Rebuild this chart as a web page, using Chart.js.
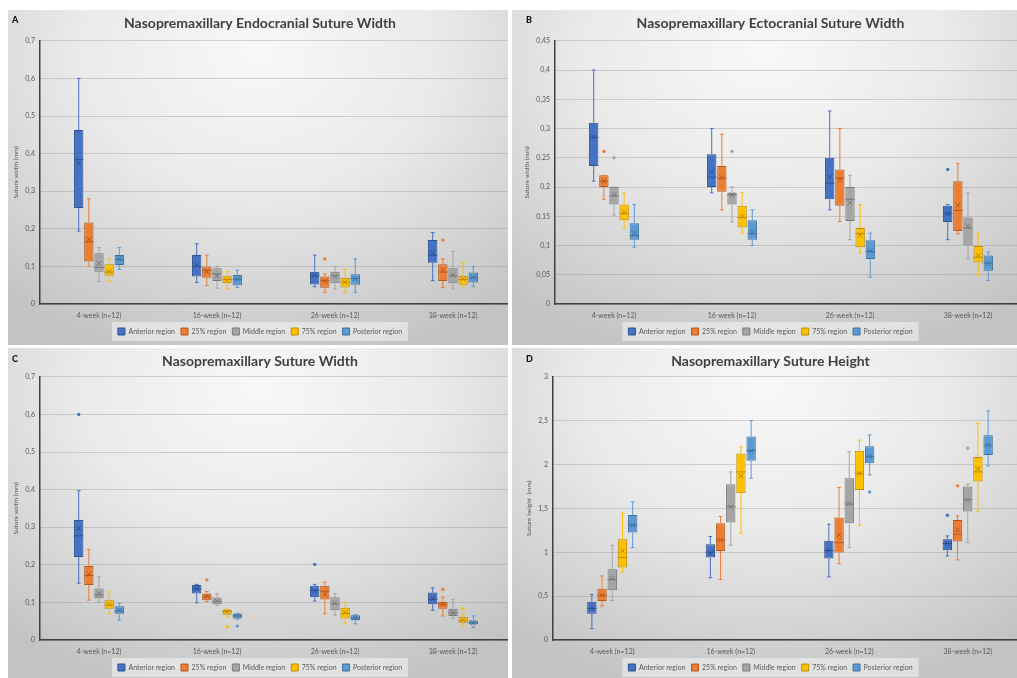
<!DOCTYPE html>
<html>
<head>
<meta charset="utf-8">
<script src="https://cdn.jsdelivr.net/npm/chart.js@4.4.0/dist/chart.umd.min.js"></script>
<style>
body{margin:0;background:#fff;width:1017px;height:678px;overflow:hidden;position:relative;font-family:Lato,sans-serif}
.panel{position:absolute;overflow:hidden;background:radial-gradient(ellipse 80% 95% at 50% 12%,#f8f8f8 0%,#eaeaea 45%,#d3d3d3 78%,#c3c3c3 100%)}
.panel canvas{position:absolute;top:0}
.letter{position:absolute;font:900 9px Lato,sans-serif;color:#111}
</style>
</head>
<body>
<div class="panel" style="left:8px;top:10px;width:500px;height:335px"><canvas id="cA" width="510" height="335" style="left:0"></canvas></div>
<div class="panel" style="left:512px;top:10px;width:505px;height:335px"><canvas id="cB" width="522" height="335" style="left:2px"></canvas></div>
<div class="panel" style="left:8px;top:348px;width:500px;height:330px"><canvas id="cC" width="510" height="333" style="left:0"></canvas></div>
<div class="panel" style="left:512px;top:348px;width:505px;height:330px"><canvas id="cD" width="522" height="333" style="left:2px"></canvas></div>
<span class="letter" style="left:12px;top:14px">A</span>
<span class="letter" style="left:526px;top:14px">B</span>
<span class="letter" style="left:12px;top:353px">C</span>
<span class="letter" style="left:526px;top:353px">D</span>
<script>
const weeks = ["4-week (n=12)", "16-week (n=12)", "26-week (n=12)", "38-week (n=12)"];
const regions = ["Anterior region", "25% region", "Middle region", "75% region", "Posterior region"];
const colors = ["#4472C4", "#ED7D31", "#A5A5A5", "#FFC000", "#5B9BD5"];
const darks = ["#2F528F", "#AE5A21", "#787878", "#BC8C00", "#41719C"];

// rows = regions, columns = weeks
// A - endocranial suture width
const endoMax  = [[0.60, 0.16, 0.13, 0.19], [0.28, 0.13, 0.08, 0.12], [0.15, 0.10, 0.10, 0.14], [0.12, 0.086, 0.092, 0.11], [0.15, 0.09, 0.12, 0.10]];
const endoQ3   = [[0.463, 0.13, 0.086, 0.17], [0.217, 0.10, 0.073, 0.106], [0.135, 0.095, 0.086, 0.095], [0.106, 0.075, 0.07, 0.075], [0.13, 0.077, 0.079, 0.084]];
const endoMed  = [[0.385, 0.10, 0.075, 0.13], [0.165, 0.09, 0.062, 0.085], [0.097, 0.08, 0.075, 0.075], [0.085, 0.065, 0.058, 0.065], [0.118, 0.066, 0.068, 0.07]];
const endoMean = [[0.374, 0.104, 0.077, 0.135], [0.172, 0.086, 0.061, 0.09], [0.108, 0.075, 0.073, 0.077], [0.086, 0.064, 0.058, 0.066], [0.12, 0.066, 0.068, 0.071]];
const endoQ1   = [[0.255, 0.073, 0.052, 0.11], [0.113, 0.07, 0.043, 0.061], [0.086, 0.061, 0.055, 0.055], [0.075, 0.055, 0.044, 0.051], [0.104, 0.049, 0.051, 0.057]];
const endoMin  = [[0.194, 0.057, 0.046, 0.062], [0.10, 0.049, 0.031, 0.044], [0.06, 0.042, 0.040, 0.04], [0.061, 0.041, 0.031, 0.046], [0.092, 0.044, 0.031, 0.046]];
const endoOut  = [[1, 2, 0.12], [1, 3, 0.17]];

// B - ectocranial suture width
const ectoMax  = [[0.40, 0.30, 0.33, 0.17], [0.22, 0.29, 0.30, 0.24], [0.20, 0.20, 0.22, 0.19], [0.19, 0.19, 0.17, 0.121], [0.17, 0.161, 0.121, 0.089]];
const ectoQ3   = [[0.31, 0.256, 0.25, 0.168], [0.22, 0.236, 0.23, 0.21], [0.20, 0.19, 0.20, 0.148], [0.17, 0.168, 0.13, 0.099], [0.138, 0.143, 0.109, 0.083]];
const ectoMed  = [[0.285, 0.217, 0.207, 0.155], [0.21, 0.215, 0.215, 0.16], [0.185, 0.187, 0.179, 0.13], [0.155, 0.148, 0.12, 0.08], [0.117, 0.12, 0.09, 0.07]];
const ectoMean = [[0.286, 0.226, 0.217, 0.154], [0.21, 0.216, 0.213, 0.169], [0.187, 0.187, 0.173, 0.133], [0.157, 0.15, 0.118, 0.083], [0.122, 0.123, 0.091, 0.069]];
const ectoQ1   = [[0.236, 0.20, 0.179, 0.14], [0.20, 0.192, 0.168, 0.125], [0.17, 0.17, 0.142, 0.10], [0.143, 0.131, 0.097, 0.071], [0.11, 0.11, 0.077, 0.057]];
const ectoMin  = [[0.21, 0.19, 0.161, 0.11], [0.179, 0.161, 0.141, 0.12], [0.152, 0.14, 0.11, 0.077], [0.13, 0.121, 0.087, 0.049], [0.097, 0.10, 0.046, 0.04]];
const ectoOut  = [[1, 0, 0.261], [2, 0, 0.25], [2, 1, 0.261], [0, 3, 0.23]];

// C - suture width
const widthMax  = [[0.397, 0.148, 0.148, 0.139], [0.241, 0.129, 0.154, 0.114], [0.168, 0.123, 0.123, 0.108], [0.128, 0.082, 0.099, 0.07], [0.098, 0.071, 0.068, 0.064]];
const widthQ3   = [[0.319, 0.146, 0.144, 0.126], [0.197, 0.123, 0.144, 0.101], [0.137, 0.113, 0.114, 0.083], [0.106, 0.08, 0.086, 0.062], [0.09, 0.07, 0.066, 0.052]];
const widthMed  = [[0.277, 0.136, 0.132, 0.108], [0.172, 0.115, 0.13, 0.095], [0.12, 0.103, 0.096, 0.072], [0.093, 0.075, 0.071, 0.052], [0.077, 0.064, 0.059, 0.046]];
const widthMean = [[0.297, 0.137, 0.13, 0.11], [0.175, 0.117, 0.122, 0.095], [0.123, 0.104, 0.098, 0.073], [0.095, 0.075, 0.073, 0.053], [0.079, 0.064, 0.059, 0.046]];
const widthQ1   = [[0.221, 0.124, 0.114, 0.095], [0.146, 0.106, 0.108, 0.083], [0.111, 0.095, 0.079, 0.064], [0.083, 0.067, 0.057, 0.046], [0.07, 0.057, 0.053, 0.042]];
const widthMin  = [[0.151, 0.099, 0.104, 0.079], [0.106, 0.102, 0.07, 0.064], [0.10, 0.092, 0.066, 0.057], [0.07, 0.061, 0.043, 0.037], [0.053, 0.055, 0.043, 0.033]];
const widthOut  = [[0, 0, 0.60], [1, 1, 0.16], [3, 1, 0.035], [4, 1, 0.037], [0, 2, 0.201], [1, 3, 0.135], [3, 3, 0.084]];

// D - suture height
const heightMax  = [[0.52, 1.18, 1.32, 1.186], [0.73, 1.407, 1.74, 1.414], [1.08, 1.916, 2.145, 1.776], [1.445, 2.2, 2.278, 2.471], [1.574, 2.5, 2.338, 2.612]];
const heightQ3   = [[0.437, 1.09, 1.13, 1.148], [0.585, 1.33, 1.395, 1.369], [0.806, 1.776, 1.844, 1.749], [1.148, 2.125, 2.156, 2.087], [1.426, 2.32, 2.209, 2.335]];
const heightMed  = [[0.36, 1.0, 1.02, 1.10], [0.51, 1.14, 1.11, 1.205], [0.69, 1.52, 1.55, 1.60], [0.94, 1.916, 1.90, 1.916], [1.31, 2.16, 2.09, 2.22]];
const heightMean = [[0.36, 0.985, 1.023, 1.103], [0.51, 1.14, 1.198, 1.255], [0.70, 1.517, 1.555, 1.597], [1.015, 1.87, 1.897, 1.954], [1.308, 2.156, 2.091, 2.22]];
const heightQ1   = [[0.30, 0.94, 0.928, 1.023], [0.445, 1.015, 0.996, 1.122], [0.567, 1.338, 1.331, 1.464], [0.825, 1.673, 1.711, 1.806], [1.224, 2.042, 2.015, 2.11]];
const heightMin  = [[0.13, 0.71, 0.72, 0.958], [0.388, 0.69, 0.87, 0.913], [0.45, 1.08, 1.053, 1.11], [0.776, 1.217, 1.308, 1.471], [1.053, 1.844, 1.882, 1.985]];
const heightOut  = [[4, 2, 1.688], [0, 3, 1.422], [1, 3, 1.757], [2, 3, 2.186]];

const fontFam = "Lato";
const txtCol = "#595959";

// whiskers, median, mean and outliers on top of the floating bars
const boxPlugin = {
    id: "boxes",
    afterDatasetsDraw(chart, args, opts) {
        const ctx = chart.ctx;
        const ys = chart.scales.y;
        const st = opts.stats;
        const px = v => ys.getPixelForValue(v);
        chart.data.datasets.forEach((ds, i) => {
            chart.getDatasetMeta(i).data.forEach((bar, j) => {
                const x = bar.x, hw = bar.width / 2, cw = hw * 0.4;
                ctx.save();
                ctx.lineWidth = 1;
                ctx.strokeStyle = colors[i];
                ctx.beginPath();
                ctx.moveTo(x, px(st.q3[i][j])); ctx.lineTo(x, px(st.max[i][j]));
                ctx.moveTo(x, px(st.q1[i][j])); ctx.lineTo(x, px(st.min[i][j]));
                ctx.moveTo(x - cw, px(st.max[i][j])); ctx.lineTo(x + cw, px(st.max[i][j]));
                ctx.moveTo(x - cw, px(st.min[i][j])); ctx.lineTo(x + cw, px(st.min[i][j]));
                ctx.stroke();
                ctx.strokeStyle = darks[i];
                ctx.beginPath();
                ctx.moveTo(x - hw, px(st.med[i][j])); ctx.lineTo(x + hw, px(st.med[i][j]));
                ctx.stroke();
                const my = px(st.mean[i][j]), s = 2.5;
                ctx.beginPath();
                ctx.moveTo(x - s, my - s); ctx.lineTo(x + s, my + s);
                ctx.moveTo(x - s, my + s); ctx.lineTo(x + s, my - s);
                ctx.stroke();
                ctx.restore();
            });
        });
        st.out.forEach(o => {
            const bar = chart.getDatasetMeta(o[0]).data[o[1]];
            ctx.save();
            ctx.fillStyle = colors[o[0]];
            ctx.beginPath();
            ctx.arc(bar.x, px(o[2]), 1.7, 0, Math.PI * 2);
            ctx.fill();
            ctx.restore();
        });
    }
};

// light box behind the legend
const legendBg = {
    id: "legendBg",
    beforeDraw(chart) {
        const hb = chart.legend && chart.legend.legendHitBoxes;
        if (!hb || !hb.length) return;
        let l = Infinity, r = -Infinity, t = Infinity, b = -Infinity;
        hb.forEach(h => {
            l = Math.min(l, h.left); r = Math.max(r, h.left + h.width);
            t = Math.min(t, h.top); b = Math.max(b, h.top + h.height);
        });
        const ctx = chart.ctx;
        ctx.save();
        ctx.fillStyle = "rgba(245,245,245,0.55)";
        ctx.fillRect(l - 6, t - 6, r - l + 12, b - t + 12);
        ctx.restore();
    }
};

function makeChart(id, title, yTitle, yMax, yStep, st, yWidth, yTitlePad, padRight, titleBottom) {
    new Chart(document.getElementById(id), {
        type: "bar",
        data: {
            labels: weeks,
            datasets: regions.map((r, i) => ({
                label: r,
                data: st.q1[i].map((v, j) => [v, st.q3[i][j]]),
                backgroundColor: colors[i],
                borderColor: darks[i],
                borderWidth: 1,
                borderSkipped: false,
                barPercentage: 0.92,
                categoryPercentage: 0.43
            }))
        },
        options: {
            responsive: false,
            animation: false,
            layout: {padding: {top: 0, left: 0, right: padRight, bottom: 0}},
            plugins: {
                title: {display: true, text: title, color: "#404040", font: {family: fontFam, size: 14, weight: "bold"}, padding: {top: 5, bottom: titleBottom}},
                legend: {position: "bottom", labels: {boxWidth: 7, boxHeight: 7, padding: 6, color: txtCol, font: {family: fontFam, size: 7}}},
                tooltip: {enabled: false},
                boxes: {stats: st}
            },
            scales: {
                x: {
                    grid: {display: false, drawTicks: false},
                    border: {color: "#404040", width: 1.5},
                    ticks: {color: txtCol, font: {family: fontFam, size: 7}, padding: 8, maxRotation: 0},
                    afterFit: s => { s.height = 18; }
                },
                y: {
                    min: 0, max: yMax,
                    ticks: {stepSize: yStep, color: txtCol, font: {family: fontFam, size: 7}, padding: 5,
                        callback: v => String(+v.toFixed(2)).replace(".", ",")},
                    grid: {color: "rgba(140,140,140,0.35)", drawTicks: false},
                    border: {color: "#404040", width: 1.5},
                    title: {display: true, text: yTitle, color: txtCol, font: {family: fontFam, size: 6.5}, padding: {top: yTitlePad, bottom: 0}},
                    afterFit: s => { s.width = yWidth; }
                }
            }
        },
        plugins: [boxPlugin, legendBg]
    });
}

makeChart("cA", "Nasopremaxillary Endocranial Suture Width", "Suture width (mm)", 0.7, 0.1,
    {max: endoMax, q3: endoQ3, med: endoMed, mean: endoMean, q1: endoQ1, min: endoMin, out: endoOut}, 32, 4, 6, 9);
makeChart("cB", "Nasopremaxillary Ectocranial Suture Width", "Suture width (mm)", 0.45, 0.05,
    {max: ectoMax, q3: ectoQ3, med: ectoMed, mean: ectoMean, q1: ectoQ1, min: ectoMin, out: ectoOut}, 41, 9, 9, 9);
makeChart("cC", "Nasopremaxillary Suture Width", "Suture width (mm)", 0.7, 0.1,
    {max: widthMax, q3: widthQ3, med: widthMed, mean: widthMean, q1: widthQ1, min: widthMin, out: widthOut}, 32, 4, 6, 7);
makeChart("cD", "Nasopremaxillary Suture Height", "Suture height  (mm)", 3, 0.5,
    {max: heightMax, q3: heightQ3, med: heightMed, mean: heightMean, q1: heightQ1, min: heightMin, out: heightOut}, 39, 11, 9, 7);
</script>
</body>
</html>
